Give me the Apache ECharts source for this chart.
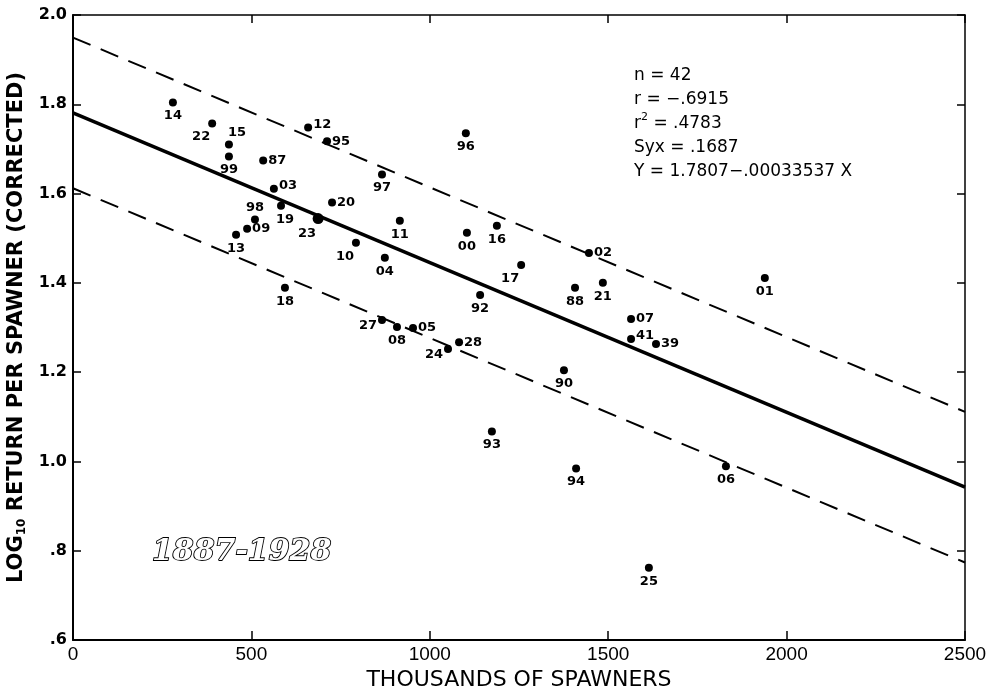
<!DOCTYPE html>
<html>
<head>
<meta charset="utf-8">
<script src="https://cdn.jsdelivr.net/npm/echarts@6/dist/echarts.min.js"></script>
<style>
html,body{margin:0;padding:0;background:#fff;}
#chart{width:997px;height:691px;}
</style>
</head>
<body>
<div id="chart"></div>
<script>
// ---- data ----
const years = ['14','22','15','99','87','12','95','03','20','19',
               '98','09','13','23','97','96','11','00','16','10',
               '04','17','02','88','21','92','01','18','27','08',
               '05','28','24','07','41','39','90','93','94','06',
               '26','25'];
const spawners = [280,390,437,437,533,659,712,563,726,583,
                  510,488,457,687,866,1101,916,1104,1188,793,
                  874,1256,1446,1407,1485,1141,1939,594,866,908,
                  953,1082,1051,1564,1564,1634,1376,1174,1410,1830,
                  2525,1614];
const logReturn = [1.804,1.757,1.710,1.683,1.674,1.748,1.717,1.611,1.580,1.573,
                   1.542,1.521,1.508,1.544,1.643,1.735,1.539,1.512,1.528,1.490,
                   1.456,1.440,1.467,1.389,1.400,1.373,1.411,1.389,1.317,1.301,
                   1.299,1.267,1.252,1.319,1.274,1.263,1.204,1.067,0.984,0.989,
                   1.085,0.762];
// label placement code per point
const labelPlace = ['b','bl','tr','b','r','rt','r','rt','r','br',
                    't','r','b','bl','b','b','b','b','b','bl',
                    'b','bl','r','b','b','b','b','b','lb','b',
                    'r','r','lb','r','rt','r','b','b','b','b',
                    'b','b'];
const xTicks = [0,500,1000,1500,2000,2500];
const yTicks = [0.6,0.8,1.0,1.2,1.4,1.6,1.8,2.0];
const intercept = 1.7807;
const slope = -0.00033537;
const syx = 0.1687;
const statsLines = ['n = 42','r = −.6915','r{sup|2} = .4783','Syx = .1687','Y = 1.7807−.00033537 X'];
const periodText = '1887-1928';

// ---- build ----
const placeMap = {
  b:{position:'bottom',offset:[0,0]},
  bl:{position:'bottom',offset:[-11,0]},
  br:{position:'bottom',offset:[4,0]},
  t:{position:'top',offset:[0,2]},
  tr:{position:'top',offset:[8,2]},
  r:{position:'right',offset:[-2,0]},
  rt:{position:'right',offset:[-2,-3]},
  lb:{position:'left',offset:[2,6]}
};
const pts = spawners.map((x,i)=>{
  const p = placeMap[labelPlace[i]];
  return {
    value:[x,logReturn[i]],
    name:years[i],
    symbolSize: years[i]==='23' ? 11 : 8,
    label:{position:p.position,offset:p.offset}
  };
});
const xMin = 0, xMax = 2500;
const fitLine = [[xMin,intercept+slope*xMin],[xMax,intercept+slope*xMax]];
const upLine = fitLine.map(d=>[d[0],d[1]+syx]);
const loLine = fitLine.map(d=>[d[0],d[1]-syx]);

const chart = echarts.init(document.getElementById('chart'),null,{renderer:'canvas'});
const option = {
  backgroundColor:'#fff',
  animation:false,
  grid:{left:73,right:32,top:15,bottom:51,containLabel:false,outerBoundsMode:'none'},
  xAxis:[{
    type:'value',min:xMin,max:xMax,interval:500,
    axisLine:{show:true,onZero:false,lineStyle:{color:'#000',width:2}},
    axisTick:{show:true,inside:true,length:9,lineStyle:{color:'#000',width:1.5}},
    splitLine:{show:false},
    axisLabel:{margin:5,color:'#000',fontFamily:'Liberation Sans Narrow, sans-serif',fontSize:19,
      formatter:v=>String(v)},
    name:'THOUSANDS OF SPAWNERS',nameLocation:'middle',nameGap:28,
    nameTextStyle:{color:'#000',fontFamily:'DejaVu Sans, sans-serif',fontSize:22}
  },{
    type:'value',position:'top',min:xMin,max:xMax,interval:500,
    axisLine:{show:true,onZero:false,lineStyle:{color:'#000',width:1.5}},
    axisTick:{show:true,inside:true,length:8,lineStyle:{color:'#000',width:1.5}},
    axisLabel:{show:false},splitLine:{show:false}
  }],
  yAxis:[{
    type:'value',min:0.6,max:2.0,interval:0.2,
    axisLine:{show:true,onZero:false,lineStyle:{color:'#000',width:2}},
    axisTick:{show:true,inside:true,length:8,lineStyle:{color:'#000',width:1.5}},
    splitLine:{show:false},
    axisLabel:{margin:6,color:'#000',fontFamily:'DejaVu Sans, sans-serif',fontSize:16,fontWeight:'bold',
      formatter:v=>{
        const s=(Math.round(v*10)/10).toFixed(1);
        return v<1?s.replace(/^0/,''):s;
      }},
    name:'LOG{sub|10} RETURN PER SPAWNER (CORRECTED)',nameLocation:'middle',nameGap:45,
    nameTextStyle:{color:'#000',fontFamily:'DejaVu Sans, sans-serif',fontSize:21,fontWeight:'bold',
      rich:{sub:{fontSize:12,fontWeight:'bold',verticalAlign:'bottom',padding:[10,0,0,0],fontFamily:'DejaVu Sans, sans-serif',color:'#000'}}}
  },{
    type:'value',position:'right',min:0.6,max:2.0,interval:0.2,
    axisLine:{show:true,onZero:false,lineStyle:{color:'#000',width:1.5}},
    axisTick:{show:true,inside:true,length:8,lineStyle:{color:'#000',width:1.5}},
    axisLabel:{show:false},splitLine:{show:false}
  }],
  series:[
    {type:'line',data:fitLine,symbol:'none',lineStyle:{color:'#000',width:3.5},z:2,silent:true},
    {type:'line',data:upLine,symbol:'none',lineStyle:{color:'#000',width:2,type:[19,11]},z:2,silent:true},
    {type:'line',data:loLine,symbol:'none',lineStyle:{color:'#000',width:2,type:[19,11]},z:2,silent:true},
    {type:'scatter',data:pts,symbol:'circle',itemStyle:{color:'#000',opacity:1},z:3,
      label:{show:true,formatter:p=>p.name,color:'#000',fontSize:13,fontWeight:'bold',
        fontFamily:'DejaVu Sans, sans-serif',distance:3}}
  ],
  graphic:[
    {type:'text',left:634,top:64,style:{
      text:statsLines.join('\n'),
      fill:'#000',font:'17px "DejaVu Sans", sans-serif',lineHeight:24,
      rich:{sup:{fontSize:11,verticalAlign:'top',padding:[0,0,8,0],fill:'#000',fontFamily:'DejaVu Sans'}}
    }},
    {type:'text',left:151,top:536,style:{
      text:periodText,fill:'#fff',stroke:'#000',lineWidth:1.8,
      font:'italic bold 30px "DejaVu Serif", serif'
    }}
  ]
};
chart.setOption(option);
</script>
</body>
</html>
